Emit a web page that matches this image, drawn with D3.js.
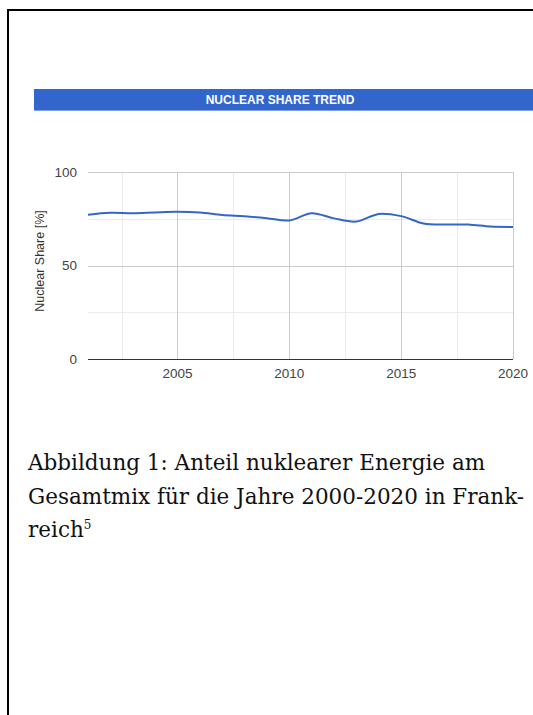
<!DOCTYPE html>
<html lang="de">
<meta charset="UTF-8">

<head>
    <title>Nuclear share trend</title>
    <script src="https://d3js.org/d3.v7.min.js"></script>
    <style>
        body { margin: 0; background: #fff; }
    </style>
</head>

<body>
    <div id="plot"></div>

    <script>
        // data
        var years = [2001, 2002, 2003, 2004, 2005, 2006, 2007, 2008, 2009, 2010,
            2011, 2012, 2013, 2014, 2015, 2016, 2017, 2018, 2019, 2020];
        var nuclearShare = [77.2, 78.2, 78.0, 78.4, 78.7, 78.3, 77.0, 76.3, 75.3, 74.1,
            78.0, 75.2, 73.5, 77.6, 76.4, 72.5, 71.9, 71.9, 70.8, 70.6];
        var yTicks = [0, 50, 100];
        var yMinor = [25, 75];
        var xTicks = [2005, 2010, 2015, 2020];
        var xMinor = [2002.5, 2007.5, 2012.5, 2017.5];
        var title = "NUCLEAR SHARE TREND";
        var yTitle = "Nuclear Share [%]";
        var caption = ["Abbildung 1: Anteil nuklearer Energie am",
            "Gesamtmix für die Jahre 2000-2020 in Frank-",
            "reich"];

        var width = 533,
            height = 715;

        var svg = d3.select('#plot').append('svg')
            .attr('width', width)
            .attr('height', height)
            .style('display', 'block');

        // page frame
        svg.append('rect')
            .attr('x', 8).attr('y', 10)
            .attr('width', 600).attr('height', 800)
            .attr('fill', 'none')
            .attr('stroke', '#000')
            .attr('stroke-width', 2);

        // title bar
        svg.append('rect')
            .attr('x', 34).attr('y', 89)
            .attr('width', 520).attr('height', 21)
            .attr('fill', '#3366cc');
        svg.append('line')
            .attr('x1', 34).attr('x2', 554)
            .attr('y1', 110.5).attr('y2', 110.5)
            .attr('stroke', '#7e9fe0');
        svg.append('text')
            .attr('x', 280).attr('y', 104)
            .attr('text-anchor', 'middle')
            .attr('fill', '#fff')
            .style('font', 'bold 12px Arial, "Liberation Sans", sans-serif')
            .text(title);

        var x = d3.scaleLinear().domain([2001, 2020]).range([88, 513]);
        var y = d3.scaleLinear().domain([0, 100]).range([359, 172]);

        var grid = svg.append('g');
        // minor grid
        grid.selectAll('.xminor').data(xMinor).join('line')
            .attr('x1', d => Math.round(x(d)) + 0.5).attr('x2', d => Math.round(x(d)) + 0.5)
            .attr('y1', y(100)).attr('y2', y(0))
            .attr('stroke', '#ebebeb');
        grid.selectAll('.yminor').data(yMinor).join('line')
            .attr('x1', x(2001)).attr('x2', x(2020))
            .attr('y1', d => Math.round(y(d)) + 0.5).attr('y2', d => Math.round(y(d)) + 0.5)
            .attr('stroke', '#ebebeb');
        // major grid
        grid.selectAll('.xmajor').data(xTicks).join('line')
            .attr('x1', d => Math.round(x(d)) + 0.5).attr('x2', d => Math.round(x(d)) + 0.5)
            .attr('y1', y(100)).attr('y2', y(0))
            .attr('stroke', '#cccccc');
        grid.selectAll('.ymajor').data(yTicks.filter(d => d > 0)).join('line')
            .attr('x1', x(2001)).attr('x2', x(2020))
            .attr('y1', d => Math.round(y(d)) + 0.5).attr('y2', d => Math.round(y(d)) + 0.5)
            .attr('stroke', '#cccccc');
        // baseline
        svg.append('line')
            .attr('x1', x(2001)).attr('x2', x(2020))
            .attr('y1', Math.round(y(0)) + 0.5).attr('y2', Math.round(y(0)) + 0.5)
            .attr('stroke', '#333');

        // tick labels
        svg.selectAll('.ylab').data(yTicks).join('text')
            .attr('x', 77).attr('y', d => y(d) + 4.5)
            .attr('text-anchor', 'end')
            .attr('fill', '#444')
            .style('font', '13.5px Arial, "Liberation Sans", sans-serif')
            .text(d => d);
        svg.selectAll('.xlab').data(xTicks).join('text')
            .attr('x', d => x(d)).attr('y', 378)
            .attr('text-anchor', 'middle')
            .attr('fill', '#444')
            .style('font', '13.5px Arial, "Liberation Sans", sans-serif')
            .text(d => d);

        svg.append('text')
            .attr('transform', 'translate(44,' + 261 + ') rotate(-90)')
            .attr('text-anchor', 'middle')
            .attr('fill', '#333')
            .style('font', '12.5px Arial, "Liberation Sans", sans-serif')
            .text(yTitle);

        // the line
        var line = d3.line()
            .x((d, i) => x(years[i]))
            .y(d => y(d))
            .curve(d3.curveCatmullRom.alpha(0.5));
        svg.append('path')
            .datum(nuclearShare)
            .attr('d', line)
            .attr('fill', 'none')
            .attr('stroke', '#3366cc')
            .attr('stroke-width', 2);

        // caption
        var cap = svg.append('text')
            .attr('fill', '#111')
            .style('font', '21.5px "DejaVu Serif", serif');
        caption.forEach(function (t, i) {
            var ts = cap.append('tspan')
                .attr('x', 28).attr('y', 470 + i * 33.5)
                .text(t);
            if (i == caption.length - 1) {
                ts.append('tspan').attr('dy', -8).style('font-size', '12px').text('5');
            }
        });
    </script>
</body>

</html>
